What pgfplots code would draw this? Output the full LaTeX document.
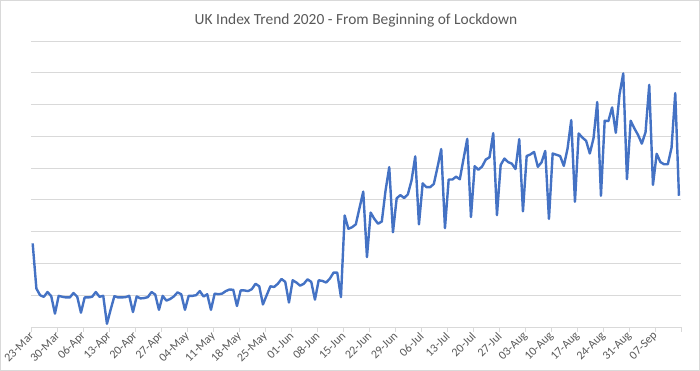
\documentclass[border=0pt]{standalone}
\usepackage{pgfplots}
\pgfplotsset{compat=1.18}
\usepackage{fontspec}
\setmainfont{Carlito}
\definecolor{lineblue}{HTML}{4472C4}
\definecolor{gridgray}{HTML}{D9D9D9}
\definecolor{textgray}{HTML}{595959}
\begin{document}
\begin{tikzpicture}[x=1bp,y=1bp]
\begin{axis}[
  name=ax,
  scale only axis,
  width=650bp, height=286bp,
  xmin=-0.45, xmax=174.55,
  ymin=0, ymax=9,
  axis line style={draw=none},
  ytick={0,1,2,3,4,5,6,7,8,9},
  yticklabels={},
  major y tick style={draw=none},
  ymajorgrids,
  grid style={gridgray, line width=0.9bp},
  xtick={-0.45,6.55,13.55,20.55,27.55,34.55,41.55,48.55,55.55,62.55,69.55,76.55,83.55,90.55,97.55,104.55,111.55,118.55,125.55,132.55,139.55,146.55,153.55,160.55,167.55,174.55},
  xticklabels={23-Mar,30-Mar,06-Apr,13-Apr,20-Apr,27-Apr,04-May,11-May,18-May,25-May,01-Jun,08-Jun,15-Jun,22-Jun,29-Jun,06-Jul,13-Jul,20-Jul,27-Jul,03-Aug,10-Aug,17-Aug,24-Aug,31-Aug,07-Sep,{}},
  xtick pos=lower,
  major x tick style={gridgray, line width=0.9bp},
  xtick align=outside,
  major tick length=5bp,
  xticklabel style={rotate=45, anchor=east, font=\fontsize{12}{13}\selectfont, text=textgray, inner sep=1bp, yshift=-2bp},
  clip=false,
]
\addplot[gridgray, line width=0.9bp, forget plot] coordinates {(-0.45,0) (174.55,0)};
\addplot[lineblue, line width=2.4bp, line join=round, mark=none] coordinates {
(0,2.63)(1,1.21)(2,1.00)(3,0.95)(4,1.10)(5,0.97)(6,0.42)
(7,0.98)(8,0.95)(9,0.93)(10,0.93)(11,1.07)(12,0.95)(13,0.45)
(14,0.93)(15,0.93)(16,0.95)(17,1.10)(18,0.95)(19,0.98)(20,0.10)
(21,0.55)(22,0.97)(23,0.93)(24,0.93)(25,0.94)(26,0.98)(27,0.47)
(28,0.96)(29,0.90)(30,0.91)(31,0.94)(32,1.10)(33,1.02)(34,0.54)
(35,0.98)(36,0.83)(37,0.88)(38,0.96)(39,1.09)(40,1.03)(41,0.54)
(42,0.98)(43,0.98)(44,1.00)(45,1.13)(46,0.96)(47,1.03)(48,0.54)
(49,1.05)(50,1.03)(51,1.05)(52,1.13)(53,1.18)(54,1.17)(55,0.66)
(56,1.15)(57,1.15)(58,1.13)(59,1.19)(60,1.36)(61,1.28)(62,0.71)
(63,1.00)(64,1.28)(65,1.26)(66,1.36)(67,1.51)(68,1.42)(69,0.77)
(70,1.47)(71,1.40)(72,1.30)(73,1.36)(74,1.50)(75,1.42)(76,0.86)
(77,1.47)(78,1.45)(79,1.40)(80,1.52)(81,1.71)(82,1.71)(83,0.94)
(84,3.51)(85,3.09)(86,3.14)(87,3.23)(88,3.75)(89,4.26)(90,2.20)
(91,3.60)(92,3.40)(93,3.25)(94,3.32)(95,4.29)(96,5.03)(97,2.98)
(98,4.05)(99,4.15)(100,4.06)(101,4.17)(102,4.61)(103,5.37)(104,3.23)
(105,4.52)(106,4.40)(107,4.40)(108,4.50)(109,5.03)(110,5.60)(111,3.11)
(112,4.64)(113,4.64)(114,4.73)(115,4.65)(116,5.29)(117,5.92)(118,3.46)
(119,5.06)(120,4.95)(121,5.05)(122,5.27)(123,5.34)(124,6.10)(125,3.52)
(126,5.10)(127,5.30)(128,5.19)(129,5.14)(130,4.97)(131,5.91)(132,3.64)
(133,5.38)(134,5.43)(135,5.51)(136,5.04)(137,5.18)(138,5.54)(139,3.40)
(140,5.46)(141,5.42)(142,5.38)(143,5.07)(144,5.61)(145,6.51)(146,3.94)
(147,6.09)(148,5.96)(149,5.86)(150,5.46)(151,5.94)(152,7.08)(153,4.13)
(154,6.49)(155,6.48)(156,6.91)(157,6.11)(158,7.32)(159,7.98)(160,4.65)
(161,6.49)(162,6.25)(163,6.04)(164,5.77)(165,6.13)(166,7.62)(167,4.47)
(168,5.45)(169,5.19)(170,5.12)(171,5.12)(172,5.64)(173,7.36)(174,4.13)
};
\end{axis}
\draw[gridgray, line width=0.8bp] ([xshift=-30.6bp,yshift=-43.6bp]ax.south west) rectangle ([xshift=18.6bp,yshift=40.6bp]ax.north east);
\node[text=textgray, font=\fontsize{15.5}{17}\selectfont] at ([yshift=21bp]ax.north) {UK Index Trend 2020 - From Beginning of Lockdown};
\end{tikzpicture}
\end{document}
